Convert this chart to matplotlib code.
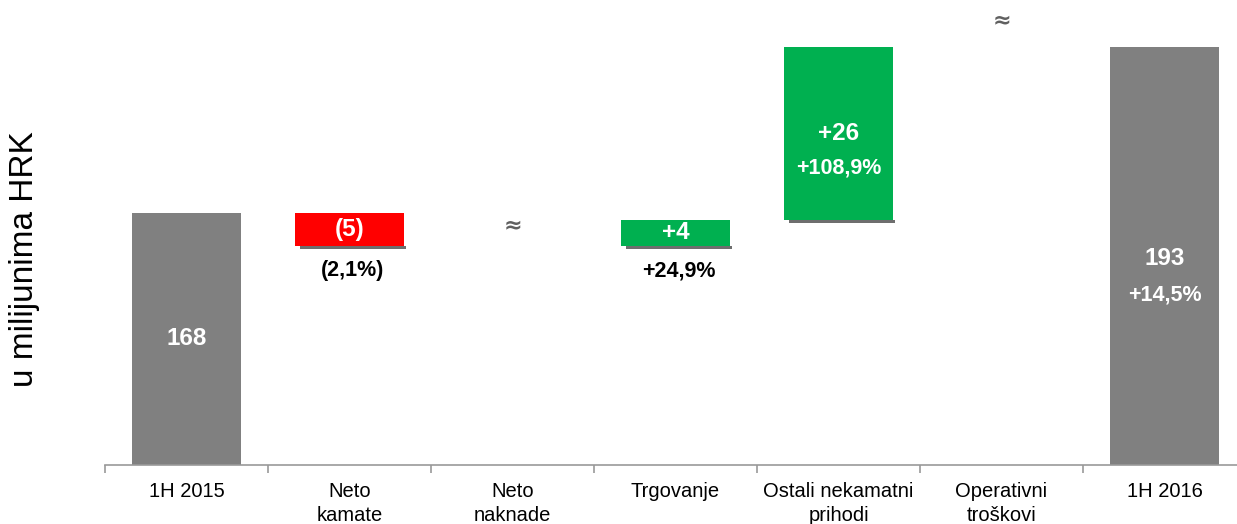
import numpy as np
import matplotlib.pyplot as plt

plt.rcParams['font.family'] = ['Liberation Sans', 'DejaVu Sans']

# Data (u milijunima HRK)
categories = ["1H 2015", "Neto\nkamate", "Neto\nnaknade", "Trgovanje",
              "Ostali nekamatni\nprihodi", "Operativni\ntroškovi", "1H 2016"]
start_total = 168
end_total = 193
changes = [-5, 0, 4, 26, 0]          # steps between the two totals
value_labels = ["168", "(5)", "", "+4", "+26", "", "193"]
pct_labels = ["", "(2,1%)", "", "+24,9%", "+108,9%", "", "+14,5%"]
approx_steps = [2, 5]                # steps shown only as "≈"

GRAY = '#808080'
RED = '#ff0000'
GREEN = '#00b050'

fig = plt.figure(figsize=(12.37, 5.24), dpi=100)
ax = fig.add_axes([105 / 1237, 59 / 524, 1141 / 1237, 465 / 524])

x = np.arange(len(categories))
w = 0.67

# running totals
levels = np.concatenate([[start_total], start_total + np.cumsum(changes)])

# totals
ax.bar(x[0], start_total, width=w, color=GRAY, zorder=2)
ax.bar(x[-1], end_total, width=w, color=GRAY, zorder=2)

# steps
for i, d in enumerate(changes):
    xi = x[i + 1]
    if xi in approx_steps:
        continue
    lo = min(levels[i], levels[i + 1])
    col = GREEN if d > 0 else RED
    ax.bar(xi, abs(d), bottom=lo, width=w, color=col, zorder=2)
    # small shadow under the bar
    ax.bar(xi + 0.02, 0.5, bottom=lo - 0.5, width=w - 0.02, color='#6e6e6e', zorder=1)

# labels on bars
ax.text(x[0], (130 + start_total) / 2, value_labels[0], ha='center', va='center',
        color='white', fontsize=17.5, fontweight='bold')
ax.text(x[-1], 161.2, value_labels[-1], ha='center', va='center',
        color='white', fontsize=17.5, fontweight='bold')
ax.text(x[-1], 155.6, pct_labels[-1], ha='center', va='center',
        color='white', fontsize=15.5, fontweight='bold')

for i, d in enumerate(changes):
    xi = x[i + 1]
    if xi in approx_steps:
        continue
    lo = min(levels[i], levels[i + 1])
    mid = lo + abs(d) / 2
    ax.text(xi, mid, value_labels[xi], ha='center', va='center',
            color='white', fontsize=17.5, fontweight='bold')
    if abs(d) > 10:
        ax.text(xi, mid - 5.3, pct_labels[xi], ha='center', va='center',
                color='white', fontsize=15.5, fontweight='bold')
    else:
        ax.text(xi + 0.02, lo - 3.7, pct_labels[xi], ha='center', va='center',
                color='black', fontsize=15.5, fontweight='bold')

# approximately-zero steps
ax.text(x[2], levels[2] + 3.2, "≈", ha='center', va='center', color='#606060',
        fontsize=16, fontweight='bold', family=['DejaVu Sans'])
ax.text(x[5], levels[5] + 4.1, "≈", ha='center', va='center', color='#606060',
        fontsize=16, fontweight='bold', family=['DejaVu Sans'])

ax.set_xlim(-0.5, len(categories) - 0.5)
ax.set_ylim(130, 200.1)

for s in ['top', 'right', 'left']:
    ax.spines[s].set_visible(False)
ax.spines['bottom'].set_color('#999999')
ax.spines['bottom'].set_linewidth(1.2)
ax.set_yticks([])

ax.set_xticks(np.arange(len(categories) + 1) - 0.5)
ax.set_xticklabels([])
ax.set_xticks(x, minor=True)
ax.set_xticklabels(categories, minor=True, fontsize=14.5, linespacing=1.35, va='top')
ax.tick_params(axis='x', which='major', length=6, color='#999999', width=1.2)
ax.tick_params(axis='x', which='minor', length=0, pad=12)

fig.text(24 / 1237, 0.505, "u milijunima HRK", rotation=90, ha='center', va='center',
         fontsize=24)

fig.savefig('out.png', dpi=100)
